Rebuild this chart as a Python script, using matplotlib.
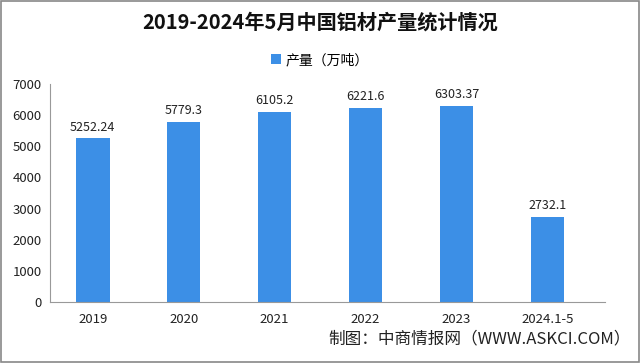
import matplotlib
matplotlib.use("Agg")
import matplotlib.pyplot as plt
from matplotlib.patches import Rectangle

plt.rcParams['font.family'] = ['Noto Sans CJK SC', 'DejaVu Sans']

categories = ['2019', '2020', '2021', '2022', '2023', '2024.1-5']
values = [5252.24, 5779.3, 6105.2, 6221.6, 6303.37, 2732.1]
labels = ['5252.24', '5779.3', '6105.2', '6221.6', '6303.37', '2732.1']
yticks = [0, 1000, 2000, 3000, 4000, 5000, 6000, 7000]

fig = plt.figure(figsize=(6.4, 3.63), dpi=100)
ax = fig.add_axes([0.078, 0.168, 0.867, 0.601])
color = '#3c8fe6'
x = list(range(len(categories)))
bars = ax.bar(x, values, width=0.37, color=color, label='产量（万吨）')
for xi, v, lab in zip(x, values, labels):
    ax.text(xi, v + 150, lab, ha='center', va='bottom', fontsize=9, color='#222222')

ax.set_xlim(-0.47, 5.63)
ax.set_ylim(0, 7000)
ax.set_yticks(yticks)
ax.set_xticks(x)
ax.set_xticklabels(categories)
ax.tick_params(axis='both', labelsize=9.5, colors='#222222', length=0)
ax.tick_params(axis='x', pad=8)
ax.tick_params(axis='y', pad=6)
for s in ['top', 'right']:
    ax.spines[s].set_visible(False)
ax.spines['left'].set_color('#999999')
ax.spines['bottom'].set_color('#999999')

fig.text(0.5, 0.94, '2019-2024年5月中国铝材产量统计情况', ha='center', va='center',
         fontsize=14.5, fontweight='bold', color='#111111')
leg = fig.legend(handles=[bars], labels=['产量（万吨）'], loc='center', bbox_to_anchor=(0.5, 0.835),
                 frameon=False, fontsize=10, handlelength=0.7, handleheight=0.7, handletextpad=0.3)
fig.text(0.985, 0.065, '制图：中商情报网（WWW.ASKCI.COM）', ha='right', va='center',
         fontsize=12, color='#222222')
fig.patches.append(Rectangle((0.002, 0.003), 0.996, 0.994, transform=fig.transFigure,
                             fill=False, edgecolor='#888888', linewidth=1.2))
fig.savefig('out.png', dpi=100)
